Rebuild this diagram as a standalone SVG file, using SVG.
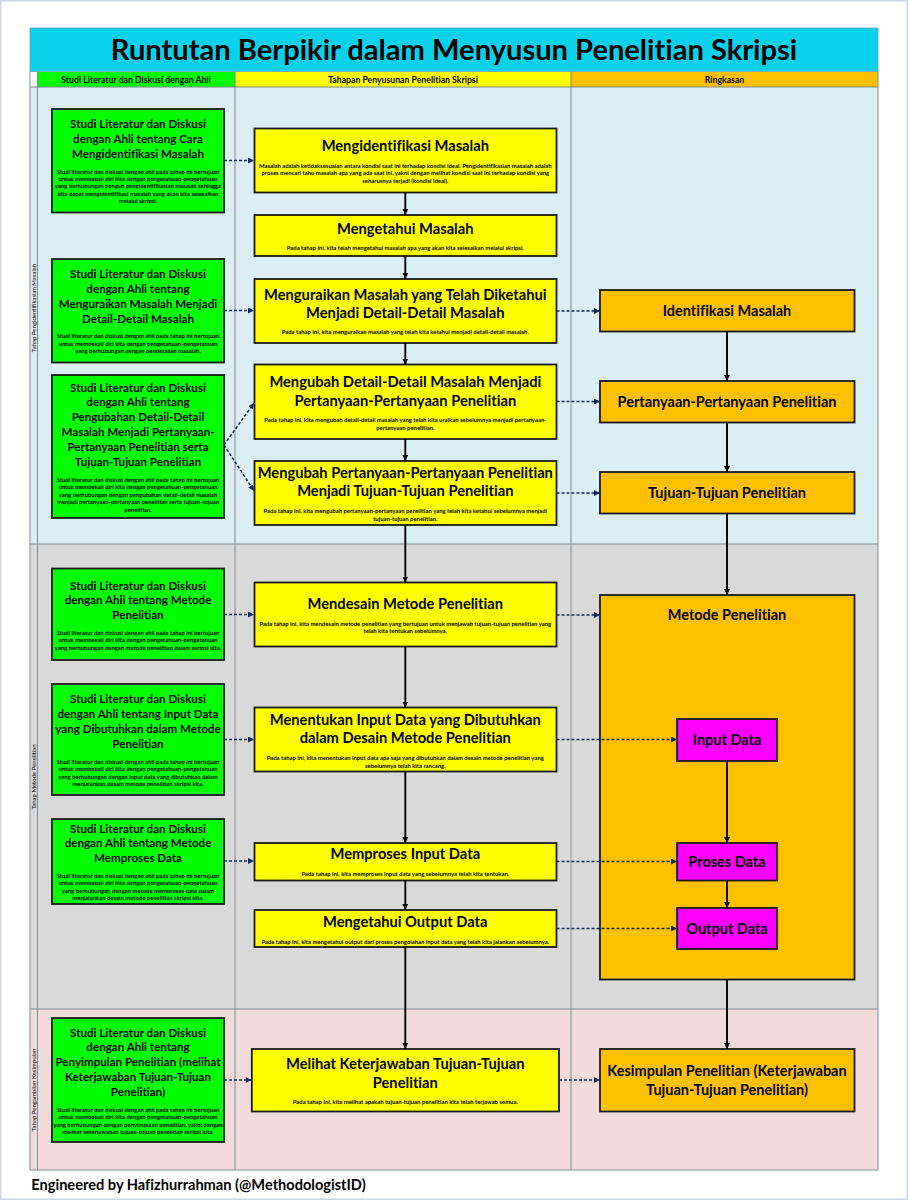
<svg xmlns="http://www.w3.org/2000/svg" width="908" height="1200" viewBox="0 0 908 1200">
<defs>
<marker id="ah" markerUnits="userSpaceOnUse" markerWidth="7" markerHeight="6" refX="6" refY="3" orient="auto"><path d="M0,0L6,3L0,6Z" fill="#000"/></marker>
<marker id="ad" markerUnits="userSpaceOnUse" markerWidth="7" markerHeight="6" refX="6" refY="3" orient="auto"><path d="M0,0L6,3L0,6Z" fill="#14285a"/></marker>
</defs>
<style>
text{font-family:Lato,"Open Sans","Liberation Sans",sans-serif;font-weight:700;fill:#000;text-anchor:middle;font-variant-ligatures:none}
.box{stroke:#1a1a1a;stroke-width:1.8}
.g{fill:#00ff00}.y{fill:#ffff00}.o{fill:#ffc000}.m{fill:#ff00ff}
.gt{font-size:11.6px}.gb{font-size:5.9px}
.yt{font-size:14.7px}.yb{font-size:5.9px}
.ot{font-size:14.5px}
.hd{font-size:8.7px}
.rt{font-size:6px;font-weight:400}
.s{fill:none;stroke:#000;stroke-width:1.9;marker-end:url(#ah)}
.d{fill:none;stroke:#14285a;stroke-width:1.5;stroke-dasharray:3 2;marker-end:url(#ad)}
.ln{stroke:#7f8a90;stroke-width:1;fill:none}
</style>
<rect x="0.75" y="0.75" width="906.5" height="1198.5" fill="#fff" stroke="#cdd3df" stroke-width="1.5"/>
<g id="background">
<rect x="30" y="87" width="848" height="457" fill="#daeef3"/>
<rect x="30" y="544" width="848" height="465" fill="#d9d9d9"/>
<rect x="30" y="1009" width="848" height="161" fill="#f2dcdb"/>
<rect x="30" y="28" width="848" height="43.500" fill="#09d1ea" stroke="#6a9fb0" stroke-width="0.8"/>
<text x="454" y="60" font-size="29.100" id="title">Runtutan Berpikir dalam Menyusun Penelitian Skripsi</text>
<rect x="37.500" y="72" width="197.500" height="15" fill="#00ff00"/>
<rect x="235" y="72" width="336" height="15" fill="#ffff00"/>
<rect x="571" y="72" width="307" height="15" fill="#ffc000"/>
<path class="ln" d="M30,71.500V1170M37.500,71.500V1170M235,71.500V1170M571,71.500V1170M878,71.500V1170M30,87H878M30,544H878M30,1009H878M30,1170H878"/>
<text class="hd" x="136" y="82.500">Studi Literatur dan Diskusi dengan Ahli</text>
<text class="hd" x="403" y="82.500">Tahapan Penyusunan Penelitian Skripsi</text>
<text class="hd" x="724.500" y="82.500">Ringkasan</text>
<text class="rt" transform="translate(36,308) rotate(-90)">Tahap Pengidentifikasian Masalah</text>
<text class="rt" transform="translate(36,777) rotate(-90)">Tahap Metode Penelitian</text>
<text class="rt" transform="translate(36,1090) rotate(-90)">Tahap Pengambilan Kesimpulan</text>
<text x="198.500" y="1189.500" font-size="14.600">Engineered by Hafizhurrahman (@MethodologistID)</text>
</g>
<g id="g1"><rect class="box g" x="52" y="109" width="172" height="103.500"/>
<text class="gt" x="138" y="128">Studi Literatur dan Diskusi</text><text class="gt" x="138" y="142.900">dengan Ahli tentang Cara</text><text class="gt" x="138" y="157.700">Mengidentifikasi Masalah</text>
<text class="gb" x="138" y="173.500">Studi literatur dan diskusi dengan ahli pada tahap ini bertujuan</text><text class="gb" x="138" y="180.900">untuk membekali diri kita dengan pengetahuan-pengetahuan</text><text class="gb" x="138" y="188.400">yang berhubungan dengan pengidentifikasian masalah sehingga</text><text class="gb" x="138" y="195.800">kita dapat mengidentifikasi masalah yang akan kita selesaikan</text><text class="gb" x="138" y="203.300">melalui skripsi.</text></g>
<g id="g2"><rect class="box g" x="52" y="259" width="172" height="103.500"/>
<text class="gt" x="138" y="278.200">Studi Literatur dan Diskusi</text><text class="gt" x="138" y="293">dengan Ahli tentang</text><text class="gt" x="138" y="307.900">Menguraikan Masalah Menjadi</text><text class="gt" x="138" y="322.700">Detail-Detail Masalah</text>
<text class="gb" x="138" y="338.300">Studi literatur dan diskusi dengan ahli pada tahap ini bertujuan</text><text class="gb" x="138" y="345.700">untuk membekali diri kita dengan pengetahuan-pengetahuan</text><text class="gb" x="138" y="353.200">yang berhubungan dengan pendetailan masalah.</text></g>
<g id="g3"><rect class="box g" x="52" y="375" width="172" height="143"/>
<text class="gt" x="138" y="391.500">Studi Literatur dan Diskusi</text><text class="gt" x="138" y="406.300">dengan Ahli tentang</text><text class="gt" x="138" y="421.200">Pengubahan Detail-Detail</text><text class="gt" x="138" y="436">Masalah Menjadi Pertanyaan-</text><text class="gt" x="138" y="450.900">Pertanyaan Penelitian serta</text><text class="gt" x="138" y="465.700">Tujuan-Tujuan Penelitian</text>
<text class="gb" x="138" y="481.700">Studi literatur dan diskusi dengan ahli pada tahap ini bertujuan</text><text class="gb" x="138" y="489.100">untuk membekali diri kita dengan pengetahuan-pengetahuan</text><text class="gb" x="138" y="496.600">yang berhubungan dengan pengubahan detail-detail masalah</text><text class="gb" x="138" y="504">menjadi pertanyaan-pertanyaan penelitian serta tujuan-tujuan</text><text class="gb" x="138" y="511.500">penelitian.</text></g>
<g id="g4"><rect class="box g" x="52" y="568.500" width="172" height="91.500"/>
<text class="gt" x="138" y="589.500">Studi Literatur dan Diskusi</text><text class="gt" x="138" y="604.400">dengan Ahli tentang Metode</text><text class="gt" x="138" y="619.200">Penelitian</text>
<text class="gb" x="138" y="634.700">Studi literatur dan diskusi dengan ahli pada tahap ini bertujuan</text><text class="gb" x="138" y="642.100">untuk membekali diri kita dengan pengetahuan-pengetahuan</text><text class="gb" x="138" y="649.600">yang berhubungan dengan metode penelitian dalam skripsi kita.</text></g>
<g id="g5"><rect class="box g" x="52" y="684" width="172" height="111"/>
<text class="gt" x="138" y="703.200">Studi Literatur dan Diskusi</text><text class="gt" x="138" y="718">dengan Ahli tentang Input Data</text><text class="gt" x="138" y="733">yang Dibutuhkan dalam Metode</text><text class="gt" x="138" y="747.800">Penelitian</text>
<text class="gb" x="138" y="763.700">Studi literatur dan diskusi dengan ahli pada tahap ini bertujuan</text><text class="gb" x="138" y="771.100">untuk membekali diri kita dengan pengetahuan-pengetahuan</text><text class="gb" x="138" y="778.600">yang berhubungan dengan input data yang dibutuhkan dalam</text><text class="gb" x="138" y="786">menjalankan desain metode penelitian skripsi kita.</text></g>
<g id="g6"><rect class="box g" x="52" y="819" width="172" height="85"/>
<text class="gt" x="138" y="832.500">Studi Literatur dan Diskusi</text><text class="gt" x="138" y="847.400">dengan Ahli tentang Metode</text><text class="gt" x="138" y="862.200">Memproses Data</text>
<text class="gb" x="138" y="878">Studi literatur dan diskusi dengan ahli pada tahap ini bertujuan</text><text class="gb" x="138" y="885.400">untuk membekali diri kita dengan pengetahuan-pengetahuan</text><text class="gb" x="138" y="892.900">yang berhubungan dengan metode memproses data dalam</text><text class="gb" x="138" y="900.300">menjalankan desain metode penelitian skripsi kita.</text></g>
<g id="g7"><rect class="box g" x="52" y="1018" width="172" height="124"/>
<text class="gt" x="138" y="1036.500">Studi Literatur dan Diskusi</text><text class="gt" x="138" y="1051.400">dengan Ahli tentang</text><text class="gt" x="138" y="1066.200">Penyimpulan Penelitian (melihat</text><text class="gt" x="138" y="1081">Keterjawaban Tujuan-Tujuan</text><text class="gt" x="138" y="1096">Penelitian)</text>
<text class="gb" x="138" y="1111.700">Studi literatur dan diskusi dengan ahli pada tahap ini bertujuan</text><text class="gb" x="138" y="1119.100">untuk membekali diri kita dengan pengetahuan-pengetahuan</text><text class="gb" x="138" y="1126.600">yang berhubungan dengan penyimpulan penelitian, yakni dengan</text><text class="gb" x="138" y="1134">melihat keterjawaban tujuan-tujuan penelitian skripsi kita.</text></g>
<g id="y1"><rect class="box y" x="254.500" y="128.500" width="302" height="64"/>
<text class="yt" x="405.300" y="151">Mengidentifikasi Masalah</text>
<text class="yb" x="405.300" y="167.700">Masalah adalah ketidaksesuaian antara kondisi saat ini terhadap kondisi ideal. Pengidentifikasian masalah adalah</text><text class="yb" x="405.300" y="175.100">proses mencari tahu masalah apa yang ada saat ini, yakni dengan melihat kondisi saat ini terhadap kondisi yang</text><text class="yb" x="405.300" y="182.500">seharusnya terjadi (kondisi ideal).</text></g>
<g id="y2"><rect class="box y" x="254.500" y="215" width="302" height="41"/>
<text class="yt" x="405.300" y="233.600">Mengetahui Masalah</text>
<text class="yb" x="405.300" y="250.400">Pada tahap ini, kita telah mengetahui masalah apa yang akan kita selesaikan melalui skripsi.</text></g>
<g id="y3"><rect class="box y" x="254.500" y="279" width="302" height="64"/>
<text class="yt" x="405.300" y="299.500">Menguraikan Masalah yang Telah Diketahui</text><text class="yt" x="405.300" y="318">Menjadi Detail-Detail Masalah</text>
<text class="yb" x="405.300" y="334.400">Pada tahap ini, kita menguraikan masalah yang telah kita ketahui menjadi detail-detail masalah.</text></g>
<g id="y4"><rect class="box y" x="254.500" y="364.500" width="302" height="74.500"/>
<text class="yt" x="405.300" y="387">Mengubah Detail-Detail Masalah Menjadi</text><text class="yt" x="405.300" y="405.700">Pertanyaan-Pertanyaan Penelitian</text>
<text class="yb" x="405.300" y="422">Pada tahap ini, kita mengubah detail-detail masalah yang telah kita uraikan sebelumnya menjadi pertanyaan-</text><text class="yb" x="405.300" y="430">pertanyaan penelitian.</text></g>
<g id="y5"><rect class="box y" x="254.500" y="461" width="302" height="64"/>
<text class="yt" x="405.300" y="477.700">Mengubah Pertanyaan-Pertanyaan Penelitian</text><text class="yt" x="405.300" y="496.400">Menjadi Tujuan-Tujuan Penelitian</text>
<text class="yb" x="405.300" y="513">Pada tahap ini, kita mengubah pertanyaan-pertanyaan penelitian yang telah kita ketahui sebelumnya menjadi</text><text class="yb" x="405.300" y="521">tujuan-tujuan penelitian.</text></g>
<g id="y6"><rect class="box y" x="254.500" y="582.500" width="302" height="64"/>
<text class="yt" x="405.300" y="608.700">Mendesain Metode Penelitian</text>
<text class="yb" x="405.300" y="625.700">Pada tahap ini, kita mendesain metode penelitian yang bertujuan untuk menjawab tujuan-tujuan penelitian yang</text><text class="yb" x="405.300" y="633.400">telah kita tentukan sebelumnya.</text></g>
<g id="y7"><rect class="box y" x="254.500" y="707.500" width="302" height="64"/>
<text class="yt" x="405.300" y="725">Menentukan Input Data yang Dibutuhkan</text><text class="yt" x="405.300" y="743">dalam Desain Metode Penelitian</text>
<text class="yb" x="405.300" y="760">Pada tahap ini, kita menentukan input data apa saja yang dibutuhkan dalam desain metode penelitian yang</text><text class="yb" x="405.300" y="768">sebelumnya telah kita rancang.</text></g>
<g id="y8"><rect class="box y" x="254.500" y="843" width="302" height="37.500"/>
<text class="yt" x="405.300" y="859.400">Memproses Input Data</text>
<text class="yb" x="405.300" y="876">Pada tahap ini, kita memproses input data yang sebelumnya telah kita tentukan.</text></g>
<g id="y9"><rect class="box y" x="254.500" y="910" width="302" height="37"/>
<text class="yt" x="405.300" y="926.700">Mengetahui Output Data</text>
<text class="yb" x="405.300" y="943.700">Pada tahap ini, kita mengetahui output dari proses pengolahan input data yang telah kita jalankan sebelumnya.</text></g>
<g id="y10"><rect class="box y" x="251.800" y="1049" width="307.200" height="62.500"/>
<text class="yt" x="405.300" y="1069.400">Melihat Keterjawaban Tujuan-Tujuan</text><text class="yt" x="405.300" y="1087.700">Penelitian</text>
<text class="yb" x="405.300" y="1104.400">Pada tahap ini, kita melihat apakah tujuan-tujuan penelitian kita telah terjawab semua.</text></g>
<g id="o1"><rect class="box o" x="600" y="290" width="254.500" height="41.500"/><text class="ot" x="727" y="316">Identifikasi Masalah</text></g>
<g id="o2"><rect class="box o" x="600" y="381" width="254.500" height="41.500"/><text class="ot" x="727" y="407">Pertanyaan-Pertanyaan Penelitian</text></g>
<g id="o3"><rect class="box o" x="600" y="472" width="254.500" height="41.500"/><text class="ot" x="727" y="498">Tujuan-Tujuan Penelitian</text></g>
<g id="o4"><rect class="box o" x="600" y="595" width="254.500" height="384.500"/><text class="ot" x="727" y="620">Metode Penelitian</text></g>
<g id="m1"><rect class="box m" x="677" y="719" width="100" height="42"/><text class="ot" x="727" y="745">Input Data</text></g>
<g id="m2"><rect class="box m" x="677" y="843" width="100" height="37.500"/><text class="ot" x="727" y="867">Proses Data</text></g>
<g id="m3"><rect class="box m" x="677" y="908" width="100" height="41"/><text class="ot" x="727" y="934">Output Data</text></g>
<g id="o5"><rect class="box o" x="600" y="1049" width="254.500" height="62.500"/><text class="ot" x="727" y="1076">Kesimpulan Penelitian (Keterjawaban</text><text class="ot" x="727" y="1095">Tujuan-Tujuan Penelitian)</text></g>
<g id="connectors">
<path class="s" d="M405.300,192.500V215"/><path class="s" d="M405.300,256V279"/><path class="s" d="M405.300,343V364.500"/><path class="s" d="M405.300,439V461"/><path class="s" d="M405.300,525V582.500"/><path class="s" d="M405.300,646.500V707.500"/><path class="s" d="M405.300,771.500V843"/><path class="s" d="M405.300,880.500V910"/><path class="s" d="M405.300,947V1049"/>
<path class="s" d="M727,331.500V381"/><path class="s" d="M727,422.500V472"/><path class="s" d="M727,513.500V595"/><path class="s" d="M727,761V843"/><path class="s" d="M727,880.500V908"/><path class="s" d="M727,979.500V1049"/>
<path class="d" d="M224,160.500H254"/><path class="d" d="M224,310.500H254"/><path class="d" d="M224,445L254,403"/><path class="d" d="M224,445L254,491"/><path class="d" d="M224,614.500H254"/><path class="d" d="M224,739.500H254"/><path class="d" d="M224,861H254"/><path class="d" d="M224,1080H251.500"/>
<path class="d" d="M556.500,311H600"/><path class="d" d="M556.500,401.500H600"/><path class="d" d="M556.500,493H600"/><path class="d" d="M556.500,615H600"/><path class="d" d="M556.500,739.500H677"/><path class="d" d="M556.500,861.500H677"/><path class="d" d="M556.500,928.500H677"/><path class="d" d="M559,1080H600"/>
</g>
</svg>
